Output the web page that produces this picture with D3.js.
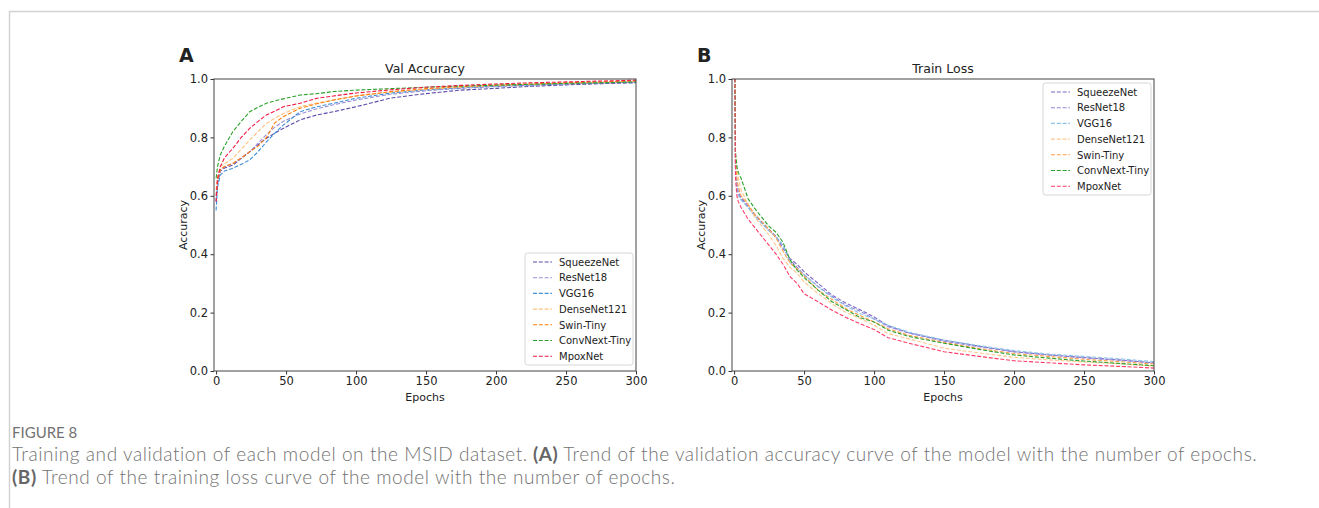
<!DOCTYPE html>
<html>
<head>
<meta charset="utf-8">
<script src="https://cdn.jsdelivr.net/npm/d3@7"></script>
<style>
  body { margin: 0; background: #fff; }
  svg text { font-family: "DejaVu Sans", sans-serif; fill: #222; }
  .caption { font-family: "Lato", "Open Sans", sans-serif; fill: #727272; }
</style>
</head>
<body>
<div id="chart"></div>
<script>
// model names, same order in both panels
var models = ["SqueezeNet", "ResNet18", "VGG16", "DenseNet121", "Swin-Tiny", "ConvNext-Tiny", "MpoxNet"];

// panel A: validation accuracy
var accEpochs = [0, 1, 3, 6, 12, 18, 24, 30, 36, 42, 48, 60, 72, 84, 100, 125, 150, 175, 200, 225, 250, 275, 300];
var accSqueezeNet   = [0.58, 0.64, 0.685, 0.695, 0.705, 0.728, 0.751, 0.775, 0.797, 0.815, 0.831, 0.860, 0.877, 0.888, 0.905, 0.935, 0.950, 0.962, 0.968, 0.975, 0.980, 0.984, 0.987];
var accResNet18     = [0.60, 0.65, 0.690, 0.700, 0.710, 0.730, 0.750, 0.780, 0.810, 0.835, 0.855, 0.880, 0.898, 0.912, 0.928, 0.948, 0.960, 0.968, 0.974, 0.979, 0.983, 0.986, 0.989];
var accVGG16        = [0.55, 0.63, 0.671, 0.685, 0.694, 0.708, 0.723, 0.751, 0.785, 0.815, 0.842, 0.888, 0.905, 0.917, 0.934, 0.952, 0.963, 0.970, 0.976, 0.980, 0.984, 0.987, 0.990];
var accDenseNet121  = [0.62, 0.66, 0.700, 0.710, 0.728, 0.760, 0.791, 0.820, 0.848, 0.866, 0.882, 0.905, 0.918, 0.928, 0.942, 0.955, 0.965, 0.972, 0.978, 0.982, 0.986, 0.989, 0.993];
var accSwinTiny     = [0.60, 0.65, 0.690, 0.700, 0.711, 0.730, 0.751, 0.770, 0.800, 0.850, 0.871, 0.900, 0.915, 0.928, 0.942, 0.957, 0.967, 0.974, 0.979, 0.983, 0.987, 0.990, 0.994];
var accConvNextTiny = [0.66, 0.70, 0.740, 0.770, 0.820, 0.855, 0.888, 0.903, 0.917, 0.925, 0.932, 0.945, 0.950, 0.957, 0.962, 0.967, 0.972, 0.976, 0.979, 0.982, 0.985, 0.987, 0.990];
var accMpoxNet      = [0.58, 0.66, 0.700, 0.730, 0.763, 0.800, 0.831, 0.855, 0.877, 0.890, 0.905, 0.917, 0.934, 0.942, 0.952, 0.963, 0.972, 0.978, 0.983, 0.987, 0.990, 0.993, 0.996];

// panel B: training loss
var lossEpochs = [0, 1, 2, 3, 5, 10, 15, 20, 25, 30, 35, 40, 45, 50, 60, 70, 80, 90, 100, 110, 125, 150, 175, 200, 225, 250, 275, 300];
var lossSqueezeNet   = [1.4, 0.72, 0.64, 0.61, 0.595, 0.565, 0.535, 0.51, 0.485, 0.46, 0.42, 0.385, 0.365, 0.34, 0.30, 0.26, 0.232, 0.21, 0.185, 0.155, 0.13, 0.105, 0.085, 0.066, 0.055, 0.046, 0.038, 0.028];
var lossResNet18     = [1.4, 0.70, 0.63, 0.61, 0.59, 0.56, 0.53, 0.505, 0.48, 0.46, 0.43, 0.38, 0.355, 0.33, 0.29, 0.255, 0.225, 0.205, 0.178, 0.152, 0.13, 0.102, 0.083, 0.066, 0.055, 0.045, 0.037, 0.027];
var lossVGG16        = [1.4, 0.70, 0.62, 0.60, 0.585, 0.56, 0.53, 0.505, 0.48, 0.46, 0.43, 0.37, 0.35, 0.33, 0.288, 0.252, 0.222, 0.197, 0.178, 0.157, 0.133, 0.106, 0.087, 0.07, 0.058, 0.05, 0.042, 0.032];
var lossDenseNet121  = [1.4, 0.74, 0.70, 0.66, 0.62, 0.57, 0.525, 0.495, 0.465, 0.43, 0.385, 0.355, 0.335, 0.305, 0.265, 0.23, 0.20, 0.18, 0.157, 0.128, 0.11, 0.078, 0.062, 0.047, 0.038, 0.031, 0.025, 0.017];
var lossSwinTiny     = [1.4, 0.72, 0.66, 0.63, 0.60, 0.57, 0.535, 0.51, 0.485, 0.455, 0.41, 0.37, 0.35, 0.325, 0.277, 0.245, 0.213, 0.19, 0.168, 0.145, 0.122, 0.098, 0.077, 0.06, 0.05, 0.04, 0.032, 0.024];
var lossConvNextTiny = [1.4, 0.75, 0.70, 0.68, 0.66, 0.59, 0.555, 0.525, 0.495, 0.475, 0.44, 0.38, 0.345, 0.32, 0.277, 0.237, 0.21, 0.183, 0.168, 0.14, 0.118, 0.095, 0.074, 0.055, 0.044, 0.034, 0.026, 0.018];
var lossMpoxNet      = [1.4, 0.66, 0.60, 0.58, 0.56, 0.52, 0.49, 0.46, 0.43, 0.40, 0.365, 0.323, 0.30, 0.265, 0.237, 0.208, 0.183, 0.162, 0.142, 0.114, 0.095, 0.066, 0.05, 0.035, 0.028, 0.021, 0.016, 0.010];

var xTicks = [0, 50, 100, 150, 200, 250, 300];
var yTicks = [0.0, 0.2, 0.4, 0.6, 0.8, 1.0];

var accSeries = [accSqueezeNet, accResNet18, accVGG16, accDenseNet121, accSwinTiny, accConvNextTiny, accMpoxNet];
var lossSeries = [lossSqueezeNet, lossResNet18, lossVGG16, lossDenseNet121, lossSwinTiny, lossConvNextTiny, lossMpoxNet];

var colorsA = ["#5b4aa8", "#9a8fd4", "#3f8fd6", "#ffc27f", "#ff7f0e", "#2ca02c", "#ee1a45"];
var colorsB = ["#7b68c8", "#8f86d8", "#8ec3e8", "#ffc890", "#ffa04a", "#2ca02c", "#ff3d6a"];

var svg = d3.select("#chart").append("svg")
  .attr("width", 1319)
  .attr("height", 508);

// card frame
svg.append("path")
  .attr("d", "M9.5,508 V11.5 H1319")
  .attr("fill", "none")
  .attr("stroke", "#d2d2d2")
  .attr("stroke-width", 1.5);

function drawPanel (opt) {
  var x = d3.scaleLinear().domain([-1.5, 300]).range([opt.left, opt.right]);
  var y = d3.scaleLinear().domain([0, 1]).range([371, 79]);
  var g = svg.append("g");

  var clipId = "clip" + opt.letter;
  g.append("clipPath").attr("id", clipId)
    .append("rect")
      .attr("x", opt.left).attr("y", 79)
      .attr("width", opt.right - opt.left).attr("height", 292);

  var line = d3.line()
    .x(function (d) { return x(d[0]); })
    .y(function (d) { return y(d[1]); });

  opt.series.forEach(function (vals, i) {
    var pts = opt.epochs.map(function (e, j) { return [e, vals[j]]; });
    g.append("path")
      .attr("clip-path", "url(#" + clipId + ")")
      .attr("d", line(pts))
      .attr("fill", "none")
      .attr("stroke", opt.colors[i])
      .attr("stroke-width", 1.1)
      .attr("stroke-dasharray", "4,1.8");
  });

  // axes
  var xAxis = g.append("g")
    .attr("transform", "translate(0,371)")
    .call(d3.axisBottom(x).tickValues(xTicks).tickSize(3.5).tickPadding(2.5).tickFormat(d3.format("d")));
  var yAxis = g.append("g")
    .attr("transform", "translate(" + opt.left + ",0)")
    .call(d3.axisLeft(y).tickValues(yTicks).tickSize(3.5).tickPadding(2.5).tickFormat(d3.format(".1f")));
  [xAxis, yAxis].forEach(function (a) {
    a.select(".domain").remove();
    a.selectAll("line").attr("stroke", "#333");
    a.selectAll("text").attr("font-size", 11.5).attr("fill", "#222")
      .attr("font-family", "DejaVu Sans, sans-serif");
  });

  g.append("rect")
    .attr("x", opt.left).attr("y", 79)
    .attr("width", opt.right - opt.left).attr("height", 292)
    .attr("fill", "none").attr("stroke", "#444").attr("stroke-width", 1);

  // texts
  g.append("text")
    .attr("x", (opt.left + opt.right) / 2).attr("y", 73)
    .attr("text-anchor", "middle").attr("font-size", 12.5)
    .text(opt.title);
  g.append("text")
    .attr("x", (opt.left + opt.right) / 2).attr("y", 401)
    .attr("text-anchor", "middle").attr("font-size", 11)
    .text("Epochs");
  g.append("text")
    .attr("transform", "translate(" + (opt.left - 27) + ",225) rotate(-90)")
    .attr("text-anchor", "middle").attr("font-size", 11)
    .text("Accuracy");
  g.append("text")
    .attr("x", opt.left - 35).attr("y", 62)
    .attr("font-family", "Liberation Sans, Arial, sans-serif")
    .attr("font-weight", "bold").attr("font-size", 19)
    .text(opt.letter);

  // legend
  var lg = g.append("g").attr("transform", "translate(" + opt.legendX + "," + opt.legendY + ")");
  lg.append("rect")
    .attr("width", 108).attr("height", 112).attr("rx", 2.5)
    .attr("fill", "#fff").attr("fill-opacity", 0.85)
    .attr("stroke", "#d6d6d6");
  models.forEach(function (m, i) {
    var yy = 9 + i * 15.7;
    lg.append("line")
      .attr("x1", 8).attr("x2", 27).attr("y1", yy).attr("y2", yy)
      .attr("stroke", opt.colors[i]).attr("stroke-width", 1.1)
      .attr("stroke-dasharray", "4,1.8");
    lg.append("text")
      .attr("x", 34).attr("y", yy + 3.7)
      .attr("font-size", 10)
      .text(m);
  });
}

drawPanel({ letter: "A", title: "Val Accuracy", left: 214, right: 636,
  epochs: accEpochs, series: accSeries, colors: colorsA, legendX: 525, legendY: 253 });
drawPanel({ letter: "B", title: "Train Loss", left: 732, right: 1154,
  epochs: lossEpochs, series: lossSeries, colors: colorsB, legendX: 1043, legendY: 83 });

// caption
svg.append("text").attr("class", "caption")
  .attr("x", 12).attr("y", 438)
  .attr("font-size", 15)
  .text("FIGURE 8");

var captionRows = [
  [{ text: "Training and validation of each model on the MSID dataset." },
   { text: "(A)", bold: true },
   { text: "Trend of the validation accuracy curve of the model with the number of epochs." }],
  [{ text: "(B)", bold: true },
   { text: "Trend of the training loss curve of the model with the number of epochs." }]
];
var captionY = [460.5, 483.5];
var capSize = 19, capGap = 5;

// first pass: measure the long line, then spread letters so it ends near x=1258
var texts = [];
captionRows.forEach(function (parts, r) {
  parts.forEach(function (p) {
    var t = svg.append("text").attr("class", "caption")
      .attr("y", captionY[r])
      .attr("font-size", capSize)
      .attr("font-weight", p.bold ? 700 : 300)
      .style("fill", p.bold ? "#666" : null)
      .text(p.text);
    texts.push({ row: r, node: t, len: p.text.length });
  });
});
var row0 = texts.filter(function (d) { return d.row === 0; });
var natural = d3.sum(row0, function (d) { return d.node.node().getComputedTextLength(); }) + capGap * (row0.length - 1);
var nChars = d3.sum(row0, function (d) { return d.len; });
var spacing = Math.max(0, (1246 - natural) / nChars);

[0, 1].forEach(function (r) {
  var cx = 12;
  texts.filter(function (d) { return d.row === r; }).forEach(function (d) {
    d.node.attr("letter-spacing", spacing).attr("x", cx);
    cx += d.node.node().getComputedTextLength() + capGap;
  });
});
</script>
</body>
</html>
